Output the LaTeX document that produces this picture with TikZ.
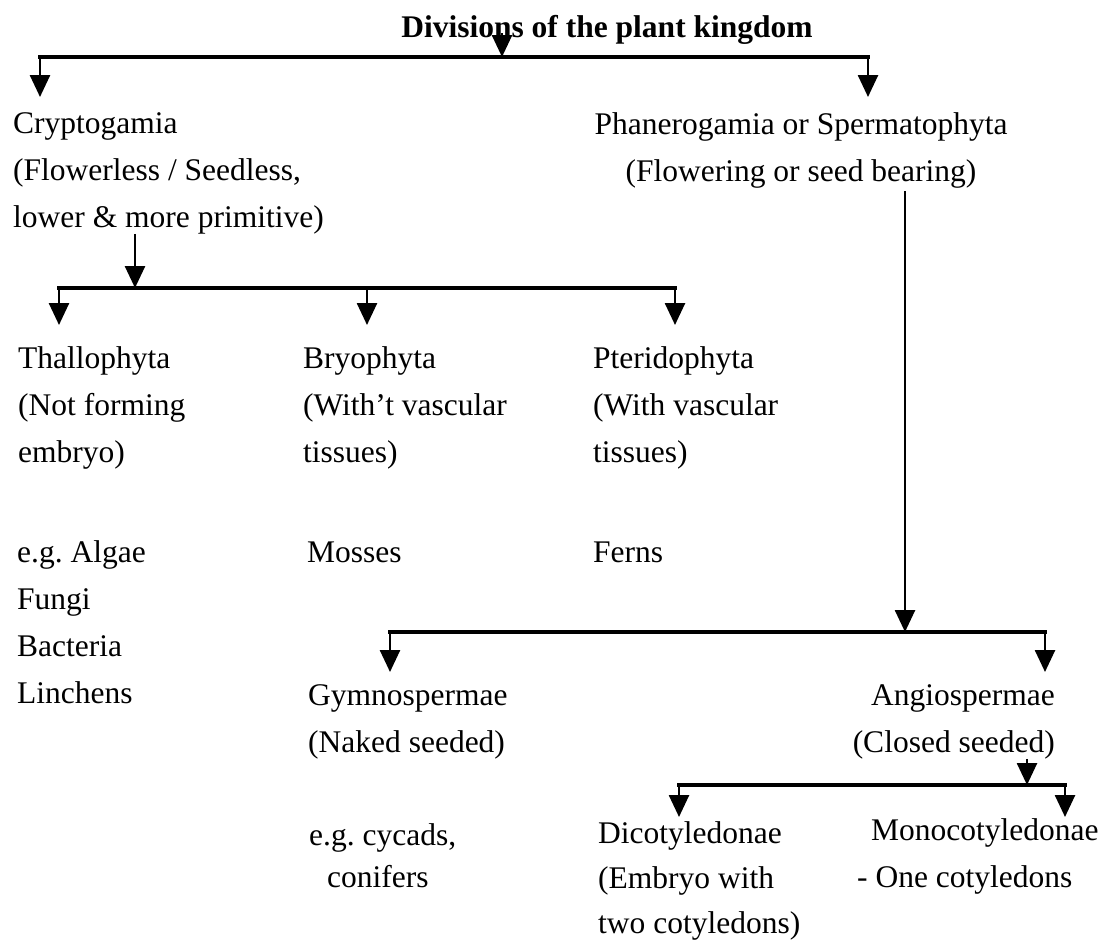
\documentclass[tikz,border=0pt]{standalone}
\usepackage{fontspec}
\setmainfont{Liberation Serif}
\usetikzlibrary{arrows.meta}
\frenchspacing
\tikzset{
    % --- styles ---
    link/.style={line width=2.6pt, -{Triangle[width=20pt,length=22pt]}},
    branch/.style={line width=3.2pt, line cap=rect},
    entry/.style={anchor=base west, inner sep=0pt, align=left,
                  font=\fontsize{31.5}{47}\selectfont},
    heading/.style={anchor=base, inner sep=0pt,
                    font=\fontsize{31.5}{47}\selectfont\bfseries}
}

\begin{document}
\begin{tikzpicture}[x=1pt,y=-1pt]
    \useasboundingbox (0,0) rectangle (1105,940);

    \node[heading] (title) at (607,37) {Divisions of the plant kingdom};

    % first split (multi-line nodes sit on their last baseline)
    \coordinate (t0) at (502,57);
    \coordinate (t1) at (40,57);
    \coordinate (t2) at (868,57);
    \draw[link] (t0 |- title.base) ++(0,-4) -- (t0);
    \draw[branch] (t1) -- (t2);
    \draw[link] (t1) -- ++(0,40);
    \draw[link] (t2) -- ++(0,40);

    \node[entry] (crypt) at (13,227) {Cryptogamia\\(Flowerless / Seedless,\\lower \& more primitive)};
    \node[entry, anchor=base, align=center] (phan) at (801,181) {Phanerogamia or Spermatophyta\\(Flowering or seed bearing)};

    % cryptogamia
    \coordinate (k0) at (135,288);
    \coordinate (k1) at (59,288);
    \coordinate (k2) at (367,288);
    \coordinate (k3) at (675,288);
    \draw[link] (k0 |- crypt.south) -- (k0);
    \draw[branch] (k1) -- (k3);
    \foreach \k in {k1,k2,k3}
        \draw[link] (\k) -- ++(0,37);

    \node[entry] (thallo) at (18,462) {Thallophyta\\(Not forming\\embryo)};
    \node[entry] (bryo) at (303,462) {Bryophyta\\(With't vascular\\tissues)};
    \node[entry] (pterido) at (593,462) {Pteridophyta\\(With vascular\\tissues)};

    \node[entry] (algae) at (17,703) {e.g. Algae\\Fungi\\Bacteria\\Linchens};
    \node[entry] (mosses) at (307,562) {Mosses};
    \node[entry] (ferns) at (593,562) {Ferns};

    % phanerogamia
    \coordinate (p0) at (905,632);
    \coordinate (p1) at (390,632);
    \coordinate (p2) at (1045,632);
    \draw[link] (p0 |- phan.south) ++(0,3) -- (p0);
    \draw[branch] (p1) -- (p2);
    \draw[link] (p1) -- ++(0,40);
    \draw[link] (p2) -- ++(0,40);

    \node[entry] (gymno) at (308,752) {Gymnospermae\\(Naked seeded)};
    \node[entry] (cycads) at (309,887) {e.g. cycads,\\[-5pt]\hspace*{18pt}conifers};
    \node[entry, anchor=base east, align=right] (angio) at (1055,752) {Angiospermae\\(Closed seeded)};

    % angiospermae
    \coordinate (a0) at (1027,785);
    \coordinate (a1) at (679,785);
    \coordinate (a2) at (1065,785);
    \draw[link] (a0 |- angio.south) -- (a0);
    \draw[branch] (a1) -- (a2);
    \draw[link] (a1) -- ++(0,32);
    \draw[link] (a2) -- ++(0,32);

    \node[entry, font=\fontsize{31.5}{45}\selectfont] (dicot) at (598,933) {Dicotyledonae\\(Embryo with\\two cotyledons)};
    \node[entry] (mono) at (857,887) {\hspace*{14pt}Monocotyledonae\\- One cotyledons};
\end{tikzpicture}
\end{document}
